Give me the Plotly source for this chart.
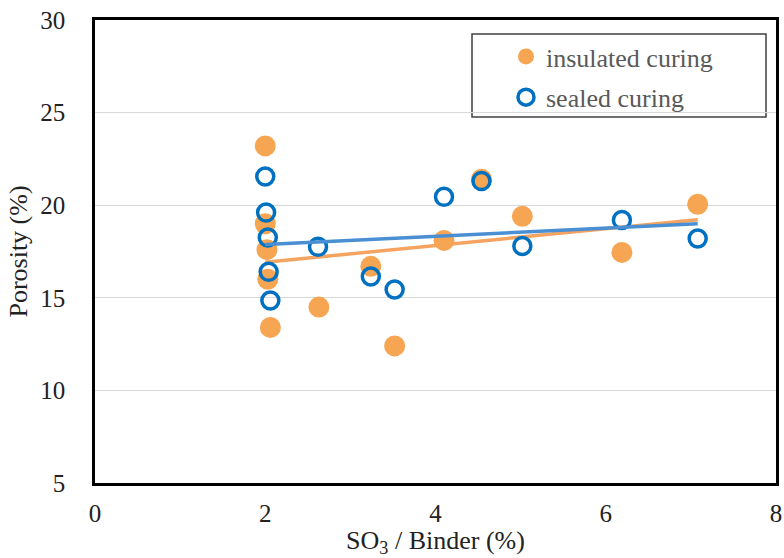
import numpy as np
import plotly.graph_objects as go

# Data
ins_x = [2.00, 2.00, 2.02, 2.03, 2.06, 2.63, 3.24, 3.52, 4.10, 4.54, 5.02, 6.19, 7.08]
ins_y = [23.2, 19.0, 17.6, 16.0, 13.4, 14.5, 16.7, 12.4, 18.1, 21.4, 19.4, 17.45, 20.05]
seal_x = [2.00, 2.01, 2.03, 2.04, 2.06, 2.62, 3.24, 3.52, 4.10, 4.54, 5.02, 6.19, 7.08]
seal_y = [21.55, 19.6, 18.25, 16.4, 14.85, 17.75, 16.15, 15.45, 20.45, 21.3, 17.8, 19.2, 18.2]

ORANGE = "#F6A552"
ORANGE_LINE = "#F4A460"
BLUE = "#0070C0"
BLUE_LINE = "#4A8FD4"
FONT = "'Liberation Serif', 'Times New Roman', 'DejaVu Serif', serif"

L, R, T, B = 95, 776, 20, 483
W, H = 784, 558
PW, PH = R - L, B - T


def trend(xs, ys):
    k, b = np.polyfit(xs, ys, 1)
    xx = np.array([min(xs), max(xs)])
    return xx, k * xx + b


fig = go.Figure()

tx, ty = trend(ins_x, ins_y)
fig.add_trace(go.Scatter(x=tx, y=ty, mode="lines", line=dict(color=ORANGE_LINE, width=3.5),
                         showlegend=False, hoverinfo="skip"))
tx2, ty2 = trend(seal_x, seal_y)

fig.add_trace(go.Scatter(x=ins_x, y=ins_y, mode="markers", name="insulated curing",
                         legendgroup="a",
                         marker=dict(color=ORANGE, size=21, line=dict(width=0))))
fig.add_trace(go.Scatter(x=seal_x, y=seal_y, mode="markers", name="sealed curing",
                         legendgroup="b",
                         marker=dict(symbol="circle-open", color=BLUE, size=17,
                                     line=dict(width=3.5, color=BLUE))))
fig.add_trace(go.Scatter(x=tx2, y=ty2, mode="lines", line=dict(color=BLUE_LINE, width=3.5),
                         showlegend=False, hoverinfo="skip"))

# legend frame
fig.add_shape(type="rect", xref="paper", yref="paper",
              x0=(472 - L) / PW, x1=(766 - L) / PW,
              y0=(B - 117) / PH, y1=(B - 34) / PH,
              line=dict(color="#404040", width=1.5), fillcolor="white", layer="below")

fig.update_layout(
    width=W, height=H,
    margin=dict(l=L, r=W - R, t=T, b=H - B),
    paper_bgcolor="white", plot_bgcolor="white",
    font=dict(family=FONT, size=25, color="#222222"),
    legend=dict(x=(506 - L) / PW, y=(B - 33) / PH, xanchor="left", yanchor="top",
                bgcolor="rgba(0,0,0,0)", borderwidth=0,
                font=dict(family=FONT, size=26, color="#595959"),
                tracegroupgap=4),
    xaxis=dict(range=[0, 8], dtick=2, tick0=0, showgrid=False, zeroline=False,
               showline=True, mirror=True, linecolor="black", linewidth=2.5,
               ticks="", ticklabelstandoff=6, automargin=False,
               tickfont=dict(size=25, family=FONT, color="#222222"),
               title=dict(text="SO<sub>3</sub> / Binder (%)", font=dict(size=26, family=FONT),
                          standoff=0)),
    yaxis=dict(range=[5, 30], dtick=5, tick0=5, showgrid=True, gridcolor="#D9D9D9", gridwidth=1,
               zeroline=False, showline=True, mirror=True, linecolor="black", linewidth=2.5,
               ticks="", ticklabelstandoff=22, automargin=False,
               tickfont=dict(size=25, family=FONT, color="#222222"),
               title=dict(text="Porosity (%)", font=dict(size=26, family=FONT), standoff=6)),
)

fig.write_html("out.html")
